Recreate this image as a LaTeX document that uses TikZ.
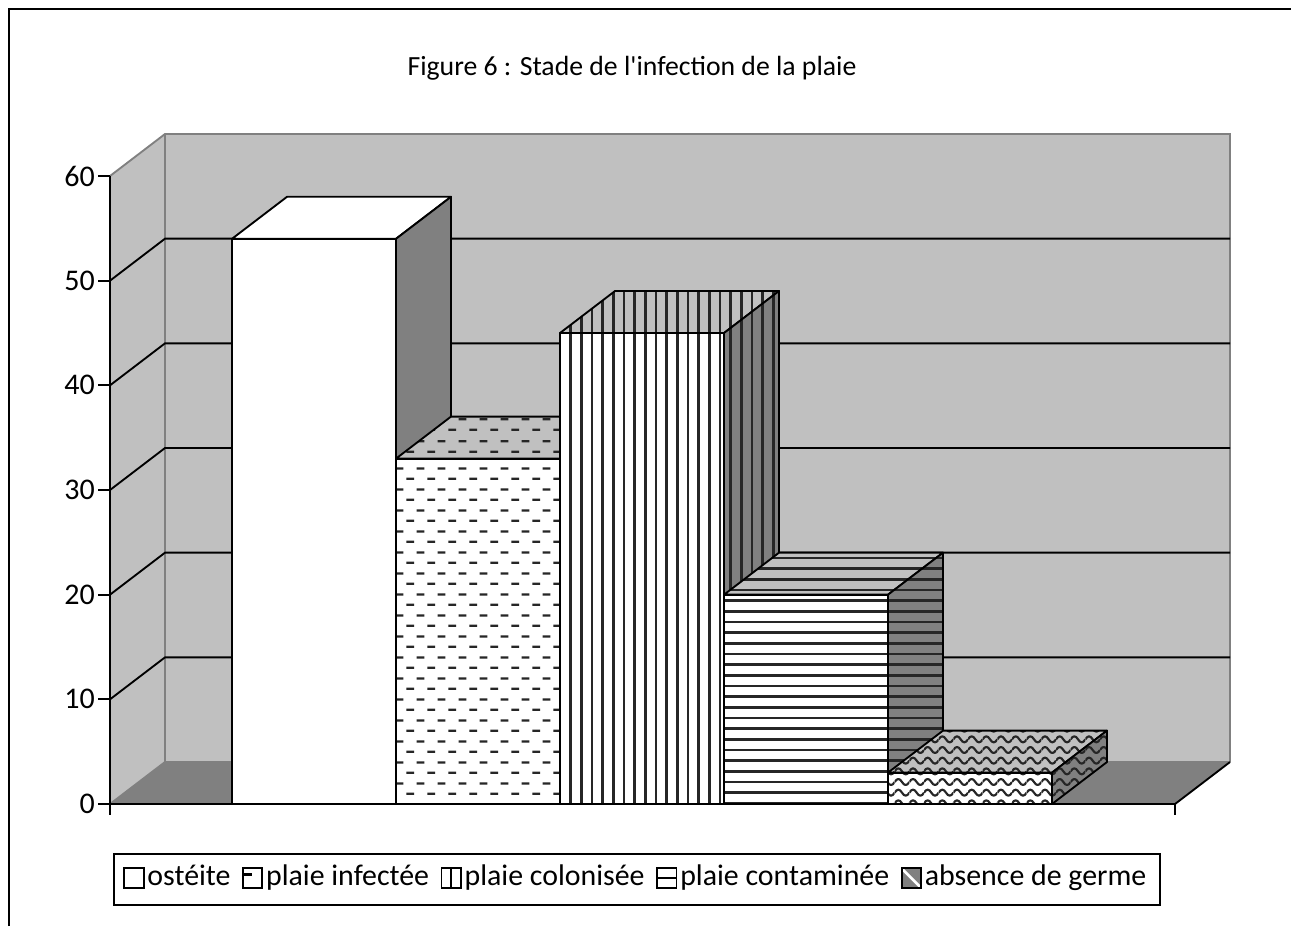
\documentclass[tikz,border=0pt]{standalone}
\usepackage{fontspec}
\setmainfont{Carlito}[Ligatures=TeXOff]
\usepackage{tikz}
\usetikzlibrary{patterns,positioning}

\definecolor{wallgray}{HTML}{C0C0C0}
\definecolor{floorgray}{HTML}{808080}
\definecolor{hatchgray}{HTML}{262626}

% hatchings of the bars
\pgfdeclarepatternformonly{hlines}{\pgfqpoint{-1pt}{-1pt}}{\pgfqpoint{9pt}{9pt}}{\pgfqpoint{8pt}{8pt}}{%
  \pgfsetlinewidth{1.8pt}
  \pgfpathmoveto{\pgfqpoint{-1pt}{4pt}}\pgfpathlineto{\pgfqpoint{9pt}{4pt}}\pgfusepath{stroke}}
\pgfdeclarepatternformonly{vlines}{\pgfqpoint{-1pt}{-1pt}}{\pgfqpoint{9pt}{9pt}}{\pgfqpoint{8pt}{8pt}}{%
  \pgfsetlinewidth{2pt}
  \pgfpathmoveto{\pgfqpoint{4pt}{-1pt}}\pgfpathlineto{\pgfqpoint{4pt}{9pt}}\pgfusepath{stroke}}
\pgfdeclarepatternformonly{hdashes}{\pgfpointorigin}{\pgfqpoint{16pt}{16pt}}{\pgfqpoint{16pt}{16pt}}{%
  \pgfsetlinewidth{1.8pt}
  \pgfpathmoveto{\pgfqpoint{1pt}{4pt}}\pgfpathlineto{\pgfqpoint{7pt}{4pt}}
  \pgfpathmoveto{\pgfqpoint{9pt}{12pt}}\pgfpathlineto{\pgfqpoint{15pt}{12pt}}\pgfusepath{stroke}}
\pgfdeclarepatternformonly{waves}{\pgfqpoint{0pt}{-1pt}}{\pgfqpoint{11pt}{9pt}}{\pgfqpoint{11pt}{8pt}}{%
  \pgfsetlinewidth{1.6pt}
  \pgfpathmoveto{\pgfqpoint{0pt}{4pt}}
  \pgfpathcurveto{\pgfqpoint{1.8pt}{7pt}}{\pgfqpoint{3.7pt}{7pt}}{\pgfqpoint{5.5pt}{4pt}}
  \pgfpathcurveto{\pgfqpoint{7.3pt}{1pt}}{\pgfqpoint{9.2pt}{1pt}}{\pgfqpoint{11pt}{4pt}}
  \pgfusepath{stroke}}

\tikzset{
  wallline/.style={draw=floorgray,line width=1.4pt},
  gridline/.style={draw=black,line width=1.4pt},
  axisline/.style={draw=black,line width=1.4pt},
  barline/.style={draw=black,line width=1.4pt,line join=round},
  face/.style 2 args={preaction={fill=#1},pattern=#2,pattern color=hatchgray},
  ticklabel/.style={anchor=east,inner sep=0pt,font=\fontsize{22.5}{26}\selectfont},
  legkey/.style={draw=black,line width=1.3pt,minimum size=14.5pt,inner sep=0pt},
  legtext/.style={inner sep=0pt,text height=16pt,text depth=5pt,font=\fontsize{22.4}{26}\selectfont},
}

% one 3d bar: left x, value, front, top and side faces
\newcommand{\cuboid}[5]{%
  \pgfmathsetmacro{\cubx}{#1}
  \pgfmathsetmacro{\cuby}{804-#2*10.4667}
  \pgfmathsetmacro{\cubr}{#1+164}
  \draw[barline,#3] (\cubx,804) rectangle (\cubr,\cuby);
  \draw[barline,#4] (\cubx,\cuby) -- ++(55,-42) -- ++(164,0) -- (\cubr,\cuby) -- cycle;
  \draw[barline,#5] (\cubr,\cuby) -- ++(55,-42) -- (\cubr+55,762) -- (\cubr,804) -- cycle;
}

\begin{document}
\begin{tikzpicture}[x=0.75pt,y=-0.75pt]
\useasboundingbox (0,0) rectangle (1291,926);
\draw[line width=1.5pt] (9,926) -- (9,9) -- (1291,9);

\node[anchor=base,font=\fontsize{20.8}{25}\selectfont] (title) at (632,75) {Figure 6 : Stade de l'infection de la plaie};

% walls and floor
\fill[wallgray] (165,134) rectangle (1230,762);
\fill[wallgray] (110,176) -- (165,134) -- (165,762) -- (110,804) -- cycle;
\fill[floorgray] (110,804) -- (165,762) -- (1230,762) -- (1175,804) -- cycle;
\draw[wallline] (110,176) -- (165,134) -- (1230,134) -- (1230,762);
\draw[wallline] (165,134) -- (165,762) -- (110,804);
\draw[wallline] (165,762) -- (1230,762);

\foreach \v in {10,20,...,50}
  \draw[gridline] (110,{804-\v*10.4667}) -- ++(55,-42) -- (1230,{762-\v*10.4667});

% axes
\draw[axisline] (110,176) -- (110,815);
\draw[axisline] (110,804) -- (1175,804) -- (1230,762);
\draw[axisline] (1175,804) -- (1175,815);
\foreach \v in {0,10,...,60} {
  \draw[axisline] (98,{804-\v*10.4667}) -- (110,{804-\v*10.4667});
  \node[ticklabel] (y\v) at (95,{804-\v*10.4667}) {\v};
}

% bars
\cuboid{232}{54}{fill=white}{fill=white}{fill=floorgray}
\cuboid{396}{33}{face={white}{hdashes}}{face={wallgray}{hdashes}}{face={floorgray}{hdashes}}
\cuboid{560}{45}{face={white}{vlines}}{face={wallgray}{vlines}}{face={floorgray}{vlines}}
\cuboid{724}{20}{face={white}{hlines}}{face={wallgray}{hlines}}{face={floorgray}{hlines}}
\cuboid{888}{3}{face={white}{waves}}{face={wallgray}{waves}}{face={floorgray}{waves}}

% legend
\draw[line width=1.4pt] (114,854) rectangle (1160,905);
\node[legkey] (k1) at (134,878) {};
\node[legtext,right=2pt of k1] (t1) {ostéite};
\node[legkey,right=8.5pt of t1,path picture={
  \draw[line width=2pt] ([xshift=1pt,yshift=-4.5pt]path picture bounding box.north west) -- ++(6pt,0);}] (k2) {};
\node[legtext,right=2pt of k2] (t2) {plaie infectée};
\node[legkey,right=8.5pt of t2,path picture={
  \draw[line width=1.3pt] (path picture bounding box.north) -- (path picture bounding box.south);}] (k3) {};
\node[legtext,right=2pt of k3] (t3) {plaie colonisée};
\node[legkey,right=8.5pt of t3,path picture={
  \draw[line width=1.3pt] (path picture bounding box.west) -- (path picture bounding box.east);}] (k4) {};
\node[legtext,right=2pt of k4] (t4) {plaie contaminée};
\node[legkey,right=8.5pt of t4,fill=gray,path picture={
  \draw[white,line width=2pt] (path picture bounding box.north west) -- (path picture bounding box.south east);}] (k5) {};
\node[legtext,right=2pt of k5] (t5) {absence de germe};
\end{tikzpicture}
\end{document}
